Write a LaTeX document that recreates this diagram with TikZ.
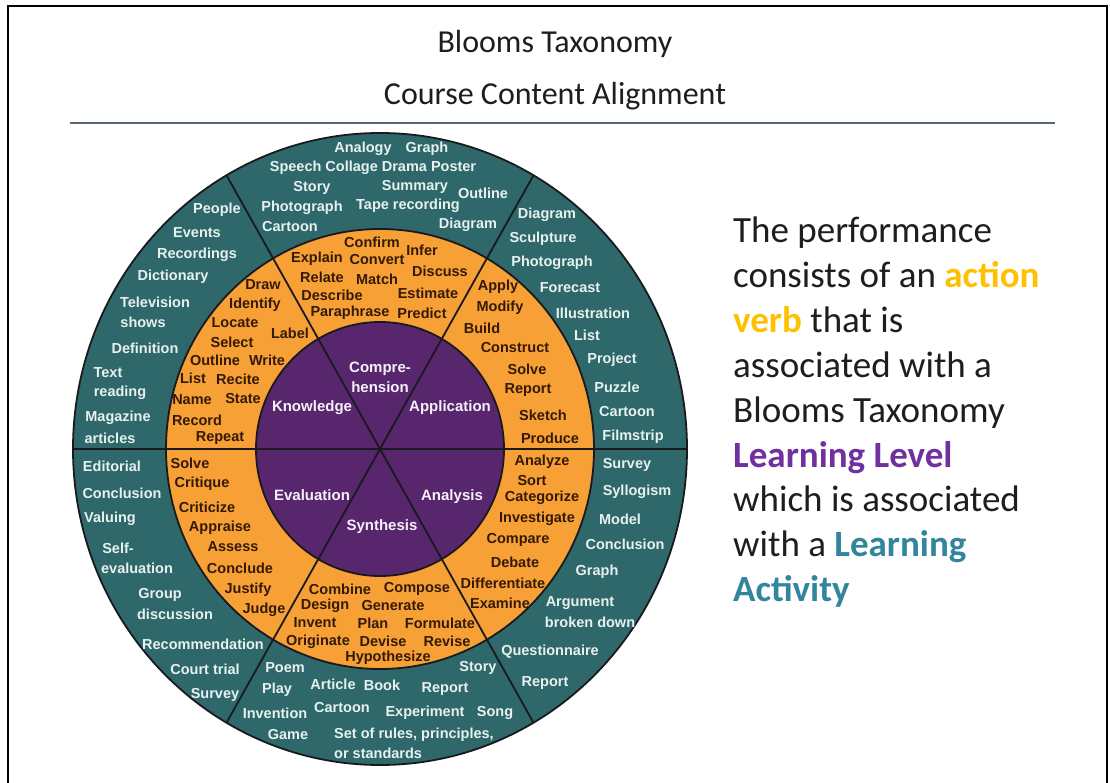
\documentclass[tikz,border=0pt]{standalone}
\usepackage{fontspec}
\setmainfont{Liberation Sans}
\newfontfamily\calfont{Carlito}
\definecolor{tealfill}{RGB}{46,104,106}
\definecolor{orangefill}{RGB}{247,160,54}
\definecolor{purplefill}{RGB}{88,38,108}
\definecolor{wheelline}{RGB}{25,25,30}
\definecolor{tealtext}{RGB}{232,240,240}
\definecolor{orangetext}{RGB}{52,26,6}
\definecolor{purpletext}{RGB}{246,240,250}
\definecolor{rulecol}{RGB}{88,104,120}
\definecolor{gold}{RGB}{255,192,0}
\definecolor{lvlpurple}{RGB}{112,48,160}
\definecolor{acttea}{RGB}{49,133,156}
\definecolor{bodytext}{RGB}{30,30,30}
\begin{document}
\begin{tikzpicture}[x=1pt,y=-1pt,
  tl/.style={text=tealtext,inner sep=0,font={\fontsize{14.5}{16}\selectfont\bfseries}},
  ol/.style={text=orangetext,inner sep=0,font={\fontsize{14.5}{16}\selectfont\bfseries}},
  pl/.style={text=purpletext,inner sep=0,align=center,font={\fontsize{15}{20}\selectfont\bfseries}},
  ring/.style={draw=wheelline,line width=1.8pt},
  divider/.style={draw=wheelline,line width=1.8pt},
  rt/.style={anchor=base west,inner sep=0,text=bodytext,font={\calfont\fontsize{37}{44}\selectfont}},
  ttl/.style={inner sep=0,text=bodytext,font={\calfont\fontsize{32}{38}\selectfont}}]
\useasboundingbox (0,0) rectangle (1110,783);
\fill[white] (0,0) rectangle (1110,783);
% frame
\coordinate (fbl) at (8,783);
\coordinate (ftl) at (8,6);
\coordinate (ftr) at (1107,6);
\coordinate (fbr) at (1107,783);
\draw[black,line width=2pt] (fbl) -- (ftl) -- (ftr) -- (fbr);
% title
\node[ttl] (title1) at (555,44) {Blooms Taxonomy};
\node[ttl] (title2) at (555,96) {Course Content Alignment};
\coordinate (rulea) at (70,123);
\coordinate (ruleb) at (1055,123);
\draw[rulecol,line width=2.5pt] (rulea) -- (ruleb);
% wheel
\coordinate (c) at (380,449);
\fill[tealfill] (c) ellipse [x radius=307,y radius=316];
\fill[orangefill] (c) ellipse [x radius=214,y radius=220];
\fill[purplefill] (c) ellipse [x radius=124,y radius=127];
\coordinate (a0) at (687,449);
\coordinate (a180) at (73,449);
\coordinate (a60) at (533.5,175.3);
\coordinate (a240) at (226.5,722.7);
\coordinate (a120) at (226.5,175.3);
\coordinate (a300) at (533.5,722.7);
\draw[divider] (a0) -- (a180);
\draw[divider] (a60) -- (a240);
\draw[divider] (a120) -- (a300);
\draw[ring] (c) ellipse [x radius=307,y radius=316];
\draw[ring] (c) ellipse [x radius=214,y radius=220];
\draw[ring] (c) ellipse [x radius=124,y radius=127];
% purple labels
\node[pl] (pcomp) at (380,377) {Compre-\\hension};
\node[pl] (pknow) at (312,408) {Knowledge};
\node[pl] (pappl) at (450,408) {Application};
\node[pl] (peval) at (312,495) {Evaluation};
\node[pl] (panal) at (452,497) {Analysis};
\node[pl] (psynt) at (382,527) {Synthesis};
% teal: knowledge
\foreach \x/\y/\t [count=\i] in {217/210/People,197/233/Events,197/255/Recordings,173/277/Dictionary,155/302/Television,143/322/shows,145/348/Definition,108/373/Text,120/393/reading,118/418/Magazine,110/438/articles}
  \node[tl] (tk\i) at (\x,\y) {\t};
% teal: comprehension
\foreach \x/\y/\t [count=\i] in {363/149/Analogy,427/149/Graph,373/168/Speech Collage Drama Poster,312/188/Story,415/187/Summary,483/193/Outline,302/208/Photograph,408/206/Tape recording,290/227/Cartoon,468/225/Diagram}
  \node[tl] (tc\i) at (\x,\y) {\t};
% teal: application
\foreach \x/\y/\t [count=\i] in {547/215/Diagram,543/239/Sculpture,552/263/Photograph,570/288/Forecast,593/313/Illustration,587/335/List,612/360/Project,617/387/Puzzle,627/412/Cartoon,633/437/Filmstrip}
  \node[tl] (ta\i) at (\x,\y) {\t};
% teal: analysis
\foreach \x/\y/\t [count=\i] in {627/465/Survey,637/492/Syllogism,620/519/Model,625/544/Conclusion,597/572/Graph,580/603/Argument,590/622/broken down,550/652/Questionnaire,545/683/Report}
  \node[tl] (tn\i) at (\x,\y) {\t};
% teal: synthesis
\foreach \x/\y/\t [count=\i] in {285/668/Poem,478/668/Story,333/684/Article,382/685/Book,445/689/Report,277/690/Play,275/713/Invention,342/708/Cartoon,425/713/Experiment,495/713/Song,288/735/Game}
  \node[tl] (ts\i) at (\x,\y) {\t};
\node[tl,anchor=west] (ts12) at (334,735) {Set of rules, principles,};
\node[tl,anchor=west] (ts13) at (334,753) {or standards};
% teal: evaluation
\foreach \x/\y/\t [count=\i] in {112/466/Editorial,122/493/Conclusion,110/519/Valuing,118/548/Self-,137/568/evaluation,160/595/Group,175/614/discussion,203/644/Recommendation,205/669/Court trial,215/695/Survey}
  \node[tl] (te\i) at (\x,\y) {\t};
% orange: knowledge
\foreach \x/\y/\t [count=\i] in {263/285/Draw,255/305/Identify,235/323/Locate,290/333/Label,232/342/Select,215/360/Outline,267/360/Write,193/378/List,238/379/Recite,192/400/Name,243/399/State,197/420/Record,220/438/Repeat}
  \node[ol] (ok\i) at (\x,\y) {\t};
% orange: comprehension
\foreach \x/\y/\t [count=\i] in {372/242/Confirm,422/250/Infer,317/259/Explain,377/260/Convert,440/271/Discuss,322/277/Relate,377/279/Match,332/295/Describe,428/293/Estimate,350/313/Paraphrase,422/313/Predict}
  \node[ol] (oc\i) at (\x,\y) {\t};
% orange: application
\foreach \x/\y/\t [count=\i] in {498/287/Apply,500/308/Modify,482/328/Build,515/348/Construct,527/369/Solve,528/390/Report,543/415/Sketch,550/438/Produce}
  \node[ol] (oa\i) at (\x,\y) {\t};
% orange: analysis
\foreach \x/\y/\t [count=\i] in {542/462/Analyze,532/481/Sort,542/498/Categorize,537/519/Investigate,518/540/Compare,515/562/Debate,503/583/Differentiate,500/603/Examine}
  \node[ol] (on\i) at (\x,\y) {\t};
% orange: synthesis
\foreach \x/\y/\t [count=\i] in {340/589/Combine,417/589/Compose,325/606/Design,393/606/Generate,315/623/Invent,373/623/Plan,440/623/Formulate,318/642/Originate,383/641/Devise,447/641/Revise,388/658/Hypothesize}
  \node[ol] (os\i) at (\x,\y) {\t};
% orange: evaluation
\foreach \x/\y/\t [count=\i] in {190/463/Solve,202/484/Critique,207/507/Criticize,220/528/Appraise,233/547/Assess,240/568/Conclude,248/590/Justify,264/610/Judge}
  \node[ol] (oe\i) at (\x,\y) {\t};
% right text
\node[rt] (r1) at (733,243) {The performance};
\node[rt] (r2) at (733,287.8) {consists of an \textcolor{gold}{\bfseries action}};
\node[rt] (r3) at (733,332.6) {\textcolor{gold}{\bfseries verb} that is};
\node[rt] (r4) at (733,377.4) {associated with a};
\node[rt] (r5) at (733,422.2) {Blooms Taxonomy};
\node[rt] (r6) at (733,467) {\textcolor{lvlpurple}{\bfseries Learning Level}};
\node[rt] (r7) at (733,511.8) {which is associated};
\node[rt] (r8) at (733,556.6) {with a \textcolor{acttea}{\bfseries Learning}};
\node[rt] (r9) at (733,601.4) {\textcolor{acttea}{\bfseries Activity}};
\end{tikzpicture}
\end{document}
